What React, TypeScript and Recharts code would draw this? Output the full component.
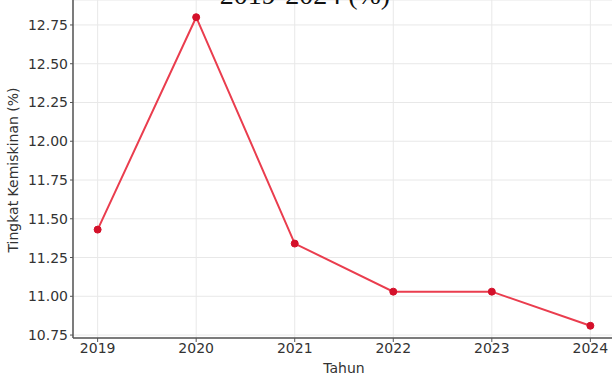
import React from 'react';
import { LineChart, Line, XAxis, YAxis, CartesianGrid, Label } from 'recharts';

const years = [2019, 2020, 2021, 2022, 2023, 2024];
const rates = [11.43, 12.8, 11.34, 11.03, 11.03, 10.81];
const yTicks = [10.75, 11.0, 11.25, 11.5, 11.75, 12.0, 12.25, 12.5, 12.75];
const title = '2019-2024 (%)';
const xLabel = 'Tahun';
const yLabel = 'Tingkat Kemiskinan (%)';

const data = years.map((year, i) => ({ year, rate: rates[i] }));

const font = '"DejaVu Sans", sans-serif';
const axisColor = '#555';

const App: React.FC = () => {
  return (
    <div style={{ position: 'absolute', left: 0, top: 0, width: 612, height: 376, overflow: 'hidden', background: '#fff' }}>
      <LineChart width={615} height={376} data={data} margin={{ top: 0, right: 0, left: 0, bottom: 0 }}>
        <CartesianGrid stroke="#e8e8e8" strokeWidth={1} />
        <XAxis
          dataKey="year"
          type="number"
          domain={[2018.75, 2024.25]}
          ticks={years}
          allowDataOverflow
          height={38}
          tickSize={4}
          tickMargin={1}
          axisLine={{ stroke: axisColor, strokeWidth: 1.5 }}
          tickLine={{ stroke: axisColor }}
          tick={{ fontSize: 14, fill: '#333', fontFamily: font }}
        >
          <Label
            content={() => (
              <text x={344} y={373} textAnchor="middle" fontSize={14} fill="#333" fontFamily={font}>
                {xLabel}
              </text>
            )}
          />
          {/* title sits mostly above the top edge, as in the reference */}
          <Label
            content={() => (
              <text x={305} y={4} textAnchor="middle" fontSize={28} fill="#111" fontFamily='"Liberation Serif", serif'>
                {title}
              </text>
            )}
          />
        </XAxis>
        <YAxis
          type="number"
          domain={[10.731, 12.911]}
          ticks={yTicks}
          allowDataOverflow
          width={73}
          tickSize={3}
          tickMargin={2}
          tickFormatter={(v: number) => v.toFixed(2)}
          axisLine={{ stroke: axisColor, strokeWidth: 1.5 }}
          tickLine={{ stroke: axisColor }}
          tick={{ fontSize: 14, fill: '#333', fontFamily: font }}
        >
          <Label
            content={() => (
              <text
                x={13}
                y={170}
                transform="rotate(-90 13 170)"
                textAnchor="middle"
                dominantBaseline="central"
                fontSize={14}
                fill="#333"
                fontFamily={font}
              >
                {yLabel}
              </text>
            )}
          />
        </YAxis>
        <Line
          type="linear"
          dataKey="rate"
          stroke="#ea3d4e"
          strokeWidth={2}
          dot={{ r: 3.5, fill: '#d4102a', stroke: '#d4102a', strokeWidth: 1 }}
          isAnimationActive={false}
        />
      </LineChart>
    </div>
  );
};

export default App;
